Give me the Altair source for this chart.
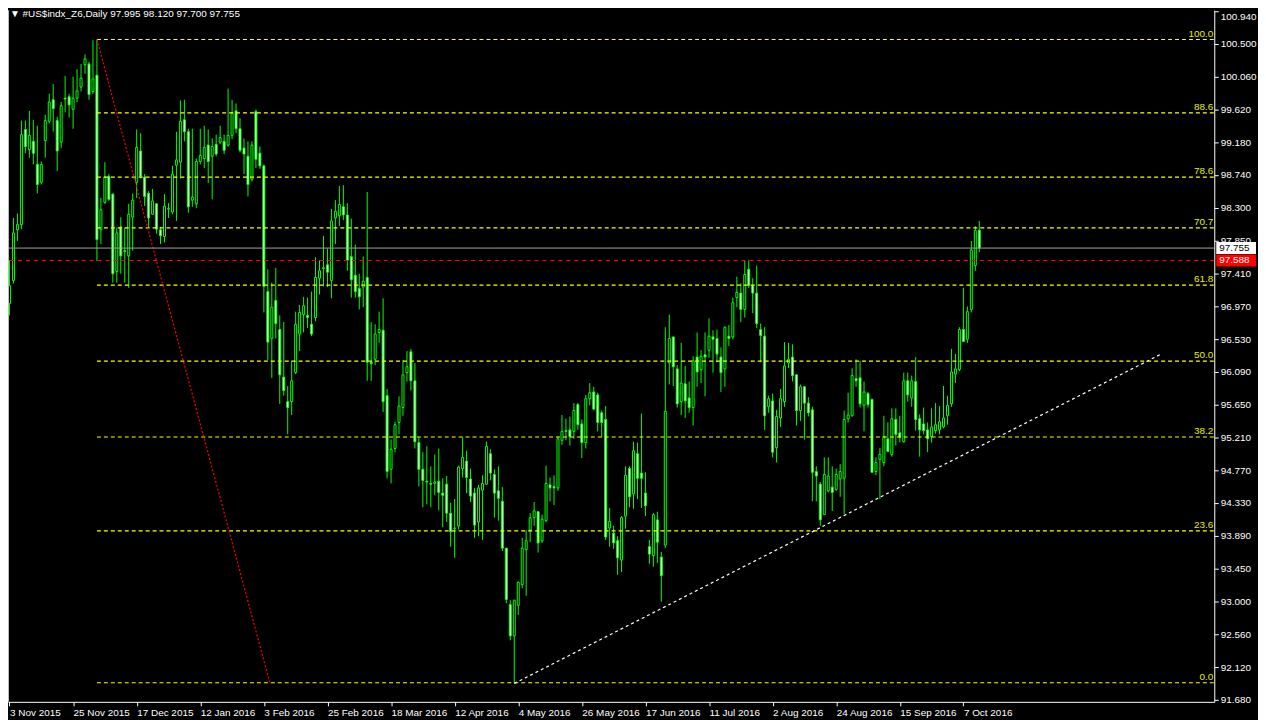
import json
import altair as alt
import pandas as pd

# ---------------- data ----------------
opens = [97.01, 97.32, 98.00, 98.07, 99.35, 99.08, 99.19, 98.88, 98.64, 99.20,
         99.46, 99.75, 99.47, 99.18, 99.77, 99.79, 99.62, 99.77, 99.92, 100.22,
         100.23, 99.86, 100.08, 98.00, 98.37, 98.72, 98.48, 97.44, 98.04, 97.72,
         97.65, 98.17, 98.64, 99.06, 98.71, 98.49, 98.21, 98.35, 98.00, 97.91,
         98.28, 98.24, 98.87, 98.91, 99.48, 99.32, 98.40, 98.35, 98.92, 98.96,
         99.14, 98.99, 99.15, 99.18, 99.19, 99.14, 99.27, 99.60, 99.36, 99.10,
         98.99, 98.68, 99.59, 99.03, 98.86, 97.17, 96.54, 97.05, 96.66, 96.02,
         95.69, 95.69, 96.08, 96.60, 96.86, 96.85, 96.73, 96.82, 97.35, 97.48,
         97.53, 97.32, 98.16, 98.19, 98.31, 98.20, 97.64, 97.39, 97.21, 97.23,
         97.36, 96.22, 96.26, 96.62, 96.65, 95.77, 94.78, 95.06, 95.41, 95.61,
         96.08, 96.36, 95.97, 95.14, 94.78, 94.62, 94.59, 94.59, 94.62, 94.46,
         94.58, 94.19, 93.98, 94.02, 94.79, 94.89, 94.65, 94.46, 94.07, 94.50,
         94.58, 94.99, 94.71, 94.49, 94.35, 93.72, 92.96, 92.54, 92.95, 93.23,
         93.70, 93.96, 94.13, 94.21, 93.82, 94.09, 94.57, 94.55, 94.53, 95.17,
         95.30, 95.31, 95.29, 95.65, 95.39, 95.14, 95.73, 95.82, 95.78, 95.54,
         95.45, 93.99, 93.92, 93.82, 93.56, 94.15, 94.79, 94.45, 94.99, 94.73,
         94.46, 93.74, 93.62, 94.10, 93.60, 93.76, 96.21, 96.56, 96.13, 95.69,
         95.93, 95.74, 95.61, 96.29, 96.12, 96.32, 96.38, 96.56, 96.54, 96.29,
         96.13, 96.57, 96.56, 97.09, 97.15, 96.93, 97.47, 97.25, 97.15, 96.66,
         96.57, 95.62, 95.70, 95.07, 95.47, 95.69, 96.21, 96.29, 96.05, 95.57,
         95.89, 95.67, 95.58, 94.75, 94.58, 94.17, 94.49, 94.54, 94.51, 94.65,
         94.66, 95.46, 95.50, 96.00, 96.01, 95.64, 95.80, 95.72, 94.75, 94.91,
         94.87, 95.19, 94.98, 95.45, 95.27, 95.15, 95.97, 95.74, 95.96, 95.46,
         95.39, 95.31, 95.22, 95.30, 95.31, 95.35, 95.50, 95.66, 96.06, 96.12,
         96.66, 96.53, 96.93, 97.52, 97.995]

highs = [97.59, 98.16, 98.22, 99.47, 99.47, 99.60, 99.48, 99.40, 98.92, 99.55,
         99.83, 99.96, 99.52, 99.72, 100.07, 99.83, 100.06, 100.16, 100.23, 100.36,
         100.26, 100.55, 100.56, 98.43, 98.91, 98.75, 98.49, 98.03, 98.17, 98.03,
         98.35, 98.49, 99.35, 99.30, 98.75, 98.52, 98.55, 98.36, 98.04, 98.48,
         98.36, 98.86, 99.32, 99.74, 99.75, 99.36, 99.36, 98.96, 99.36, 99.40,
         99.35, 99.23, 99.28, 99.40, 99.28, 99.90, 99.75, 99.70, 99.50, 99.23,
         99.19, 99.19, 99.62, 99.12, 98.88, 97.47, 97.29, 97.49, 96.85, 96.76,
         95.90, 96.24, 96.90, 96.99, 97.10, 97.09, 97.17, 97.63, 97.59, 97.92,
         97.75, 98.28, 98.40, 98.59, 98.60, 98.36, 98.15, 97.80, 97.41, 97.64,
         98.51, 96.76, 96.73, 96.90, 97.08, 95.86, 95.18, 95.42, 95.76, 96.25,
         96.37, 96.40, 96.21, 95.21, 95.01, 95.09, 94.82, 94.98, 95.06, 94.66,
         94.69, 94.33, 94.38, 94.83, 95.21, 95.03, 94.79, 94.53, 94.57, 94.70,
         95.15, 95.05, 94.78, 94.82, 94.54, 93.72, 93.02, 93.02, 93.27, 93.86,
         93.96, 94.19, 94.34, 94.22, 94.17, 94.83, 94.67, 94.70, 95.22, 95.51,
         95.46, 95.49, 95.67, 95.67, 95.45, 95.78, 95.94, 95.89, 95.81, 95.57,
         95.63, 94.26, 94.02, 93.88, 94.15, 94.82, 94.82, 95.15, 95.14, 95.53,
         94.74, 93.83, 94.19, 94.21, 93.67, 96.69, 96.86, 96.56, 96.18, 96.48,
         96.17, 95.96, 96.30, 96.62, 96.38, 96.62, 96.81, 96.65, 96.66, 96.42,
         96.70, 96.72, 97.09, 97.37, 97.28, 97.59, 97.59, 97.35, 97.52, 96.74,
         96.69, 95.77, 95.80, 95.58, 95.86, 96.49, 96.48, 96.46, 96.06, 95.92,
         95.90, 95.75, 95.62, 94.82, 94.61, 94.94, 94.94, 94.82, 94.79, 94.85,
         95.57, 95.81, 96.14, 96.26, 96.24, 95.96, 95.82, 95.73, 94.94, 95.07,
         95.50, 95.41, 95.60, 95.60, 95.50, 96.08, 96.08, 96.04, 96.29, 95.52,
         95.61, 95.41, 95.60, 95.67, 95.63, 95.90, 95.77, 96.40, 96.33, 96.69,
         97.22, 96.97, 97.85, 98.05, 98.12]

lows = [96.85, 97.28, 97.85, 98.01, 99.03, 98.97, 98.88, 98.49, 98.61, 98.97,
        99.43, 99.32, 98.79, 99.10, 99.58, 99.51, 99.36, 99.72, 99.86, 100.10,
        99.75, 99.83, 97.58, 97.81, 98.35, 98.39, 97.29, 97.29, 97.41, 97.29,
        97.22, 97.72, 98.43, 98.69, 98.32, 98.03, 98.20, 97.95, 97.81, 97.83,
        98.16, 98.21, 98.12, 98.69, 99.19, 98.23, 98.31, 98.29, 98.88, 98.83,
        98.63, 98.41, 98.99, 99.15, 99.02, 99.12, 99.22, 99.30, 99.04, 98.75,
        98.45, 98.65, 98.83, 98.82, 96.89, 96.25, 96.01, 96.54, 95.66, 95.77,
        95.25, 95.51, 96.06, 96.37, 96.62, 96.68, 96.57, 96.77, 97.13, 97.24,
        97.23, 97.08, 97.81, 98.05, 98.13, 97.45, 97.09, 97.09, 96.93, 96.96,
        95.97, 95.97, 96.18, 96.48, 95.55, 94.66, 94.59, 95.01, 95.25, 95.50,
        95.96, 95.84, 95.06, 94.55, 94.27, 94.31, 94.27, 94.43, 94.23, 94.00,
        94.07, 93.74, 93.59, 93.97, 94.67, 94.46, 94.34, 93.86, 93.88, 93.83,
        94.57, 94.63, 94.13, 94.09, 93.68, 92.98, 92.48, 91.91, 92.82, 93.18,
        93.08, 93.80, 94.02, 93.66, 93.79, 94.07, 94.35, 94.30, 94.49, 95.11,
        95.17, 95.10, 95.19, 95.31, 94.93, 95.06, 95.64, 95.57, 95.29, 95.21,
        93.83, 93.74, 93.71, 93.36, 93.40, 93.98, 94.27, 94.25, 94.38, 94.26,
        94.15, 93.51, 93.47, 93.52, 93.00, 93.72, 95.92, 95.90, 95.61, 95.51,
        95.47, 95.54, 95.37, 95.89, 95.94, 95.76, 96.28, 96.08, 96.22, 95.82,
        95.89, 96.44, 96.53, 96.96, 96.76, 96.82, 97.22, 96.88, 96.68, 96.22,
        95.31, 95.54, 94.94, 94.87, 95.35, 95.62, 96.14, 95.96, 95.37, 95.43,
        95.18, 95.49, 94.35, 94.35, 94.02, 94.17, 94.47, 94.22, 94.49, 94.41,
        94.18, 95.41, 95.49, 95.89, 95.61, 95.29, 95.61, 94.74, 94.70, 94.38,
        94.82, 95.01, 94.95, 95.10, 95.14, 95.14, 95.69, 95.62, 95.30, 94.95,
        95.25, 95.01, 95.14, 95.26, 95.25, 95.33, 95.38, 95.62, 95.94, 96.10,
        96.49, 96.48, 96.89, 97.45, 97.70]

closes = [97.25, 97.96, 98.07, 99.28, 99.12, 99.27, 99.03, 98.61, 98.88, 99.47,
          99.72, 99.63, 99.06, 99.67, 99.76, 99.68, 99.77, 99.87, 100.04, 100.30,
          99.82, 100.03, 97.87, 98.27, 98.71, 98.41, 97.41, 97.96, 97.65, 97.71,
          98.21, 98.40, 99.11, 98.72, 98.45, 98.16, 98.39, 98.01, 97.92, 98.32,
          98.29, 98.75, 98.94, 99.46, 99.32, 98.31, 98.44, 98.92, 99.00, 99.11,
          98.92, 99.12, 99.02, 99.24, 99.07, 99.27, 99.58, 99.36, 99.07, 99.02,
          98.61, 99.14, 98.95, 98.86, 97.24, 96.49, 96.96, 96.74, 96.05, 95.84,
          95.61, 95.97, 96.73, 96.89, 96.98, 96.82, 96.60, 97.36, 97.45, 97.49,
          97.43, 98.12, 98.25, 98.34, 98.20, 97.59, 97.33, 97.17, 97.10, 97.31,
          96.22, 96.20, 96.60, 96.66, 95.69, 94.75, 95.05, 95.38, 95.63, 96.05,
          96.16, 95.97, 95.15, 94.78, 94.63, 94.61, 94.58, 94.61, 94.47, 94.43,
          94.19, 93.94, 93.99, 94.81, 94.94, 94.67, 94.42, 94.03, 94.53, 94.59,
          95.09, 94.73, 94.46, 94.39, 93.72, 93.03, 92.54, 93.02, 93.26, 93.72,
          93.82, 94.13, 94.22, 93.79, 94.11, 94.59, 94.53, 94.53, 95.19, 95.29,
          95.29, 95.22, 95.57, 95.38, 95.14, 95.73, 95.81, 95.59, 95.41, 95.41,
          93.87, 94.08, 93.79, 93.59, 94.13, 94.70, 94.41, 95.03, 94.66, 94.66,
          94.29, 93.64, 94.17, 93.80, 93.35, 95.56, 96.54, 96.16, 95.66, 95.94,
          95.70, 95.61, 96.24, 96.09, 96.30, 96.29, 96.57, 96.53, 96.33, 96.08,
          96.69, 96.54, 97.02, 97.16, 96.93, 97.40, 97.25, 97.15, 96.74, 96.58,
          95.50, 95.73, 95.01, 95.49, 95.73, 96.17, 96.26, 96.04, 95.57, 95.89,
          95.67, 95.54, 94.74, 94.69, 94.10, 94.71, 94.69, 94.47, 94.71, 94.75,
          95.45, 95.51, 96.04, 95.97, 95.66, 95.82, 95.65, 94.74, 94.87, 94.98,
          95.22, 95.02, 95.46, 95.25, 95.21, 95.97, 95.78, 95.97, 95.45, 95.31,
          95.30, 95.19, 95.35, 95.38, 95.42, 95.47, 95.64, 96.09, 96.13, 96.66,
          96.50, 96.90, 97.73, 97.99, 97.755]

date_labels = ["3 Nov 2015", "25 Nov 2015", "17 Dec 2015", "12 Jan 2016",
               "3 Feb 2016", "25 Feb 2016", "18 Mar 2016", "12 Apr 2016",
               "4 May 2016", "26 May 2016", "17 Jun 2016", "11 Jul 2016",
               "2 Aug 2016", "24 Aug 2016", "15 Sep 2016", "7 Oct 2016"]
bars_per_label = 16

price_ticks = [100.940, 100.500, 100.060, 99.620, 99.180, 98.740, 98.300,
               97.850, 97.410, 96.970, 96.530, 96.090, 95.650, 95.210,
               94.770, 94.330, 93.890, 93.450, 93.000, 92.560, 92.120, 91.680]

fib_levels = [0.0, 23.6, 38.2, 50.0, 61.8, 70.7, 78.6, 88.6, 100.0]
fib_low = 91.91
fib_high = 100.56
fib_start_bar = 22
fib_base_bars = [22, 65.5]
fib_base_prices = [100.56, 91.91]

trend_bars = [127, 289.75]
trend_prices = [91.90, 96.33]

bid_price = 97.755
alert_price = 97.588
header = "\u25bc #US$indx_Z6,Daily  97.995 98.120 97.700 97.755"

# ---------------- styling ----------------
FONT = "Tahoma, Liberation Sans, Arial, sans-serif"
FS = 10
LIME = "#00FF00"
W, H = 1214, 696
n = len(opens)

xs = alt.Scale(domain=[-0.375, (W - 1.5) / 4.0], nice=False, zero=False)
ys = alt.Scale(domain=[91.653, 100.953], nice=False, zero=False)

df = pd.DataFrame({"i": list(range(n)), "o": opens, "h": highs, "l": lows, "c": closes})
df["hi"] = df[["o", "h", "c"]].max(axis=1)
df["lo"] = df[["o", "l", "c"]].min(axis=1)
df["dir"] = ["down" if c < o else "up" for o, c in zip(opens, closes)]
df["bx"] = df["i"] - 0.25
df["bx2"] = df["i"] + 0.25

label_expr = json.dumps(date_labels) + "[round(datum.value / %d)]" % bars_per_label
x_axis = alt.Axis(values=[k * bars_per_label for k in range(len(date_labels))],
                  labelExpr=label_expr, labelAlign="left", labelBaseline="top",
                  labelColor="white", labelFont=FONT, labelFontSize=FS, labelPadding=2,
                  labelFlush=False, labelOverlap=False, labelBound=False,
                  tickColor="white", tickSize=4, tickWidth=1, domainColor="white",
                  domainWidth=1, grid=False, title=None)
top_tick = max(price_ticks)
y_axis = alt.Axis(orient="right", values=price_ticks, format=".3f", labelColor="white",
                  labelFont=FONT, labelFontSize=FS, labelPadding=2, labelOverlap=False,
                  labelBaseline={"condition": {"test": "datum.value >= %.3f" % (top_tick - 0.001),
                                               "value": "top"}, "value": "middle"},
                  labelBound=False, labelFlush=False, tickColor="white", tickSize=4,
                  tickWidth=1, domainColor="white", domainWidth=1, grid=False, title=None)


def X(field):
    return alt.X(field, type="quantitative", scale=xs, axis=x_axis)


def Y(field):
    return alt.Y(field, type="quantitative", scale=ys, axis=y_axis)


wicks = alt.Chart(df).mark_rule(color=LIME, strokeWidth=1).encode(
    x=X("i"), y=Y("lo"), y2="hi:Q",
)

bodies = alt.Chart(df).mark_rect(stroke=LIME, strokeWidth=1).encode(
    x=X("bx"), x2="bx2:Q",
    y=Y("o"), y2="c:Q",
    fill=alt.Fill("dir:N", scale=alt.Scale(domain=["up", "down"], range=["#000000", "#FFFFFF"]),
                  legend=None),
)

fib_df = pd.DataFrame({
    "level": fib_levels,
    "price": [fib_low + lv / 100.0 * (fib_high - fib_low) for lv in fib_levels],
    "label": ["%.1f" % lv for lv in fib_levels],
    "start": [fib_start_bar] * len(fib_levels),
})
fib_lines = alt.Chart(fib_df).mark_rule(color="#FFFF00", strokeWidth=1.2, strokeDash=[4, 3]).encode(
    x=X("start"), x2=alt.value(W), y=Y("price"),
)
fib_text = alt.Chart(fib_df).mark_text(align="right", baseline="bottom", color="#E2F000",
                                       font=FONT, fontSize=FS, dy=-1).encode(
    x=alt.value(W - 1), y=Y("price"), text="label:N",
)

base_df = pd.DataFrame({"b": fib_base_bars, "p": fib_base_prices})
fib_base = alt.Chart(base_df).mark_line(color="#FF0000", strokeWidth=1.2, strokeDash=[2, 2]).encode(
    x=X("b"), y=Y("p"),
)

trend_df = pd.DataFrame({"b": trend_bars, "p": trend_prices})
trend = alt.Chart(trend_df).mark_line(color="#FFFFFF", strokeWidth=1.2, strokeDash=[3, 3]).encode(
    x=X("b"), y=Y("p"),
)

bid_line = alt.Chart(pd.DataFrame({"p": [bid_price]})).mark_rule(color="#A0A0A0", strokeWidth=1).encode(
    y=Y("p"))
alert_line = alt.Chart(pd.DataFrame({"p": [alert_price]})).mark_rule(
    color="#FF0000", strokeWidth=1.2, strokeDash=[4, 4]).encode(y=Y("p"))

left_edge = alt.Chart(pd.DataFrame({"p": [0]})).mark_rule(color="#C0C0C0", strokeWidth=1).encode(
    x=alt.value(0.5), y=alt.value(0), y2=alt.value(H))

box_df = pd.DataFrame({
    "p": [bid_price, alert_price],
    "t": ["%.3f" % bid_price, "%.3f" % alert_price],
    "bg": ["#FFFFFF", "#FF0000"],
    "fg": ["#000000", "#FFFFFF"],
})
boxes = alt.Chart(box_df).mark_rect(height=12).encode(
    x=alt.value(W + 2), x2=alt.value(W + 42),
    y=Y("p"),
    color=alt.Color("bg:N", scale=None),
)
box_text = alt.Chart(box_df).mark_text(align="left", baseline="middle", font=FONT, fontSize=FS).encode(
    x=alt.value(W + 5),
    y=Y("p"),
    text="t:N",
    color=alt.Color("fg:N", scale=None),
)

head = alt.Chart(pd.DataFrame({"t": [header]})).mark_text(
    align="left", baseline="top", color="white", font=FONT, fontSize=FS).encode(
    x=alt.value(2), y=alt.value(-1), text="t:N")

chart = alt.layer(
    wicks, bodies, fib_lines, fib_text, fib_base, trend, bid_line, alert_line,
    left_edge, boxes, box_text, head,
).properties(
    width=W, height=H,
    padding={"left": 0, "top": 0, "right": 1258 - W, "bottom": 16},
    autosize=alt.AutoSizeParams(type="none"),
).configure(background="#000000").configure_view(stroke=None)

chart.save("out.html", embed_options={"renderer": "svg", "actions": False})
